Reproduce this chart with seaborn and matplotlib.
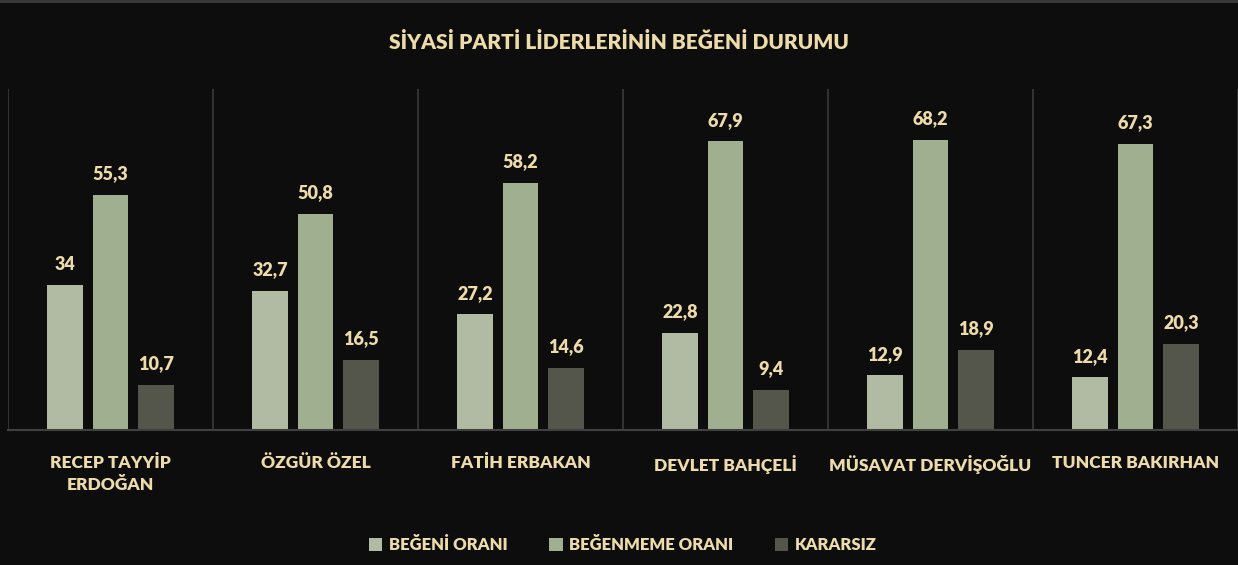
import pandas as pd
import seaborn as sns
import matplotlib.pyplot as plt
import matplotlib
matplotlib.use('Agg')

liderler = ['RECEP TAYYİP\nERDOĞAN', 'ÖZGÜR ÖZEL', 'FATİH ERBAKAN',
            'DEVLET BAHÇELİ', 'MÜSAVAT DERVİŞOĞLU', 'TUNCER BAKIRHAN']
begeni = [34, 32.7, 27.2, 22.8, 12.9, 12.4]
begenmeme = [55.3, 50.8, 58.2, 67.9, 68.2, 67.3]
kararsiz = [10.7, 16.5, 14.6, 9.4, 18.9, 20.3]
seriler = ['BEĞENİ ORANI', 'BEĞENMEME ORANI', 'KARARSIZ']
renkler = ['#b1bf9f', '#9fb48b', '#55584a']

BG = '#0d0d0d'
TXT = '#eddcaa'

df = pd.DataFrame({
    'lider': liderler * 3,
    'deger': begeni + begenmeme + kararsiz,
    'durum': [s for s in seriler for _ in liderler]})

sns.set_theme(style='dark')
plt.rcParams['font.family'] = ['Lato', 'DejaVu Sans']

fig = plt.figure(figsize=(12.38, 5.65), dpi=100, facecolor=BG)
ax = fig.add_axes([8 / 1238, 1 - 430 / 565, 1 - 8 / 1238, 341 / 565])
ax.set_facecolor(BG)

sns.barplot(data=df, x='lider', y='deger', hue='durum', palette=renkler,
            width=0.664, gap=0.21, ax=ax, legend=True, linewidth=0,
            edgecolor='none')

for c in ax.containers:
    ax.bar_label(c, labels=[('%g' % v).replace('.', ',') for v in c.datavalues],
                 padding=9, color=TXT, fontsize=13, fontweight='heavy')

ax.set_ylim(0, 80.2)
ax.set_xlim(-0.5, len(liderler) - 0.5)
for i in range(len(liderler) + 1):
    ax.axvline(i - 0.5, color='#3a3a3a', lw=1.2)

for s in ['top', 'right', 'left']:
    ax.spines[s].set_visible(False)
ax.spines['bottom'].set_visible(True)
ax.spines['bottom'].set_color('#404040')
ax.spines['bottom'].set_linewidth(1.5)
ax.set_yticks([])
ax.set_xlabel('')
ax.set_ylabel('')
ax.grid(False)
ax.tick_params(axis='x', colors=TXT, length=0, pad=18)
for t in ax.get_xticklabels():
    t.set_fontsize(12.5)
    t.set_fontweight('heavy')
    t.set_color(TXT)
    t.set_verticalalignment('top')
    t.set_linespacing(1.5)

fig.text(0.5, 1 - 42 / 565, 'SİYASİ PARTİ LİDERLERİNİN BEĞENİ DURUMU',
         ha='center', va='center', color=TXT, fontsize=15, fontweight='heavy')

leg = ax.legend(loc='center', bbox_to_anchor=(0.5, (430 - 545) / 341),
                ncol=3, frameon=False, handlelength=0.8, handleheight=0.8,
                handletextpad=0.4, columnspacing=2.5,
                prop={'size': 12, 'weight': 'heavy'})
for t in leg.get_texts():
    t.set_color(TXT)
for h in leg.legend_handles:
    h.set_edgecolor('none')

fig.add_artist(plt.Line2D([0, 1], [0.998, 0.998], color='#3c3c3c', lw=2))

plt.savefig('out.png', dpi=100, facecolor=BG)
plt.close()
